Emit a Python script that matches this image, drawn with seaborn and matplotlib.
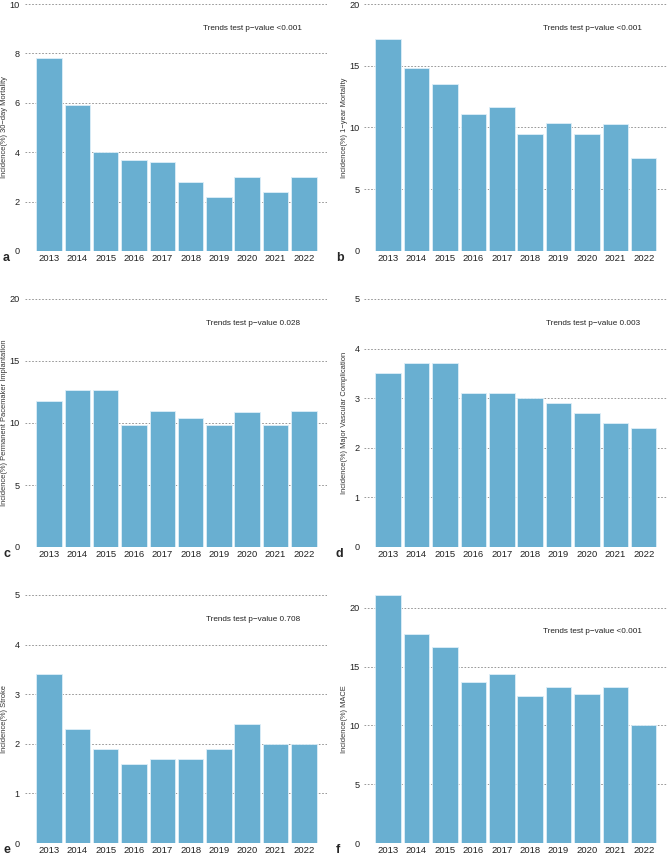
import matplotlib
matplotlib.use("Agg")
import matplotlib.pyplot as plt
import seaborn as sns
import pandas as pd

years = ["2013", "2014", "2015", "2016", "2017", "2018", "2019", "2020", "2021", "2022"]

mort_30d = [7.8, 5.9, 4.0, 3.7, 3.6, 2.8, 2.2, 3.0, 2.4, 3.0]
mort_1y = [17.2, 14.8, 13.5, 11.1, 11.7, 9.5, 10.4, 9.5, 10.3, 7.5]
ppi = [11.8, 12.7, 12.7, 9.8, 11.0, 10.4, 9.8, 10.9, 9.8, 11.0]
vascular = [3.5, 3.7, 3.7, 3.1, 3.1, 3.0, 2.9, 2.7, 2.5, 2.4]
stroke = [3.4, 2.3, 1.9, 1.6, 1.7, 1.7, 1.9, 2.4, 2.0, 2.0]
mace = [21.1, 17.8, 16.7, 13.7, 14.4, 12.5, 13.3, 12.7, 13.3, 10.0]

ylabels = ["Incidence(%) 30\u2212day Mortality", "Incidence(%) 1\u2212year Mortality",
           "Incidence(%) Permanent Pacemaker Implantation", "Incidence(%) Major Vascular Complication",
           "Incidence(%) Stroke", "Incidence(%) MACE"]
pvalues = ["<0.001", "<0.001", "0.028", "0.003", "0.708", "<0.001"]
yticks = [[0, 2, 4, 6, 8, 10], [0, 5, 10, 15, 20], [0, 5, 10, 15, 20],
          [0, 1, 2, 3, 4, 5], [0, 1, 2, 3, 4, 5], [0, 5, 10, 15, 20]]
panel_letters = ["a", "b", "c", "d", "e", "f"]
series = [mort_30d, mort_1y, ppi, vascular, stroke, mace]

sns.set_style("white")
plt.rcParams["font.family"] = ["Liberation Sans", "DejaVu Sans"]

W, H = 669, 855
fig = plt.figure(figsize=(W / 100, H / 100), dpi=100)

# panel boxes in pixels: (left, right, top, bottom)
lefts = [25, 364]
rights = [327, 667]
rows = [(4, 251), (299, 547), (595, 843)]
ylabel_x = [8.5, 348]    # pixel of the right edge of the rotated y label
ytick_pad = [4.0, 3.0]

bar_color = "#69AFD1"

for i, vals in enumerate(series):
    col = i % 2
    top, bot = rows[i // 2]
    l, r = lefts[col], rights[col]
    ax = fig.add_axes([l / W, 1 - bot / H, (r - l) / W, (bot - top) / H])
    df = pd.DataFrame({"year": years, "value": vals})
    sns.barplot(data=df, x="year", y="value", color=bar_color, saturation=1,
                width=0.9, edgecolor="#DDEFF8", linewidth=0.6, ax=ax, zorder=2)
    ax.set_xlim(-0.85, 9.82)
    ymax = max(yticks[i][-1], max(vals))
    ax.set_ylim(0, ymax)
    ax.set_yticks(yticks[i])
    ax.yaxis.grid(True, linestyle=(0, (2, 2)), color="#888888", linewidth=0.6, zorder=0)
    ax.set_axisbelow(True)
    for s in ax.spines.values():
        s.set_visible(False)
    ax.tick_params(axis="x", length=0, labelsize=6.8, colors="#222222", pad=2)
    ax.tick_params(axis="y", length=0, labelsize=6.6, colors="#222222", pad=ytick_pad[col])
    ax.set_xlabel("")
    ax.set_ylabel(ylabels[i], fontsize=5.4, color="#333333")
    ax.yaxis.set_label_coords((ylabel_x[col] - l) / (r - l), 0.5)
    ytext = yticks[i][-1] * 0.9
    ax.text(7.2, ytext, "Trends test p\u2212value " + pvalues[i], ha="center", va="center",
            fontsize=5.9, color="#222222")
    lx = 3 if col == 0 else 336
    fig.text(lx / W, 1 - (bot + 7) / H, panel_letters[i], fontsize=9, fontweight="bold",
             ha="left", va="center")

fig.savefig("out.png", dpi=100)
